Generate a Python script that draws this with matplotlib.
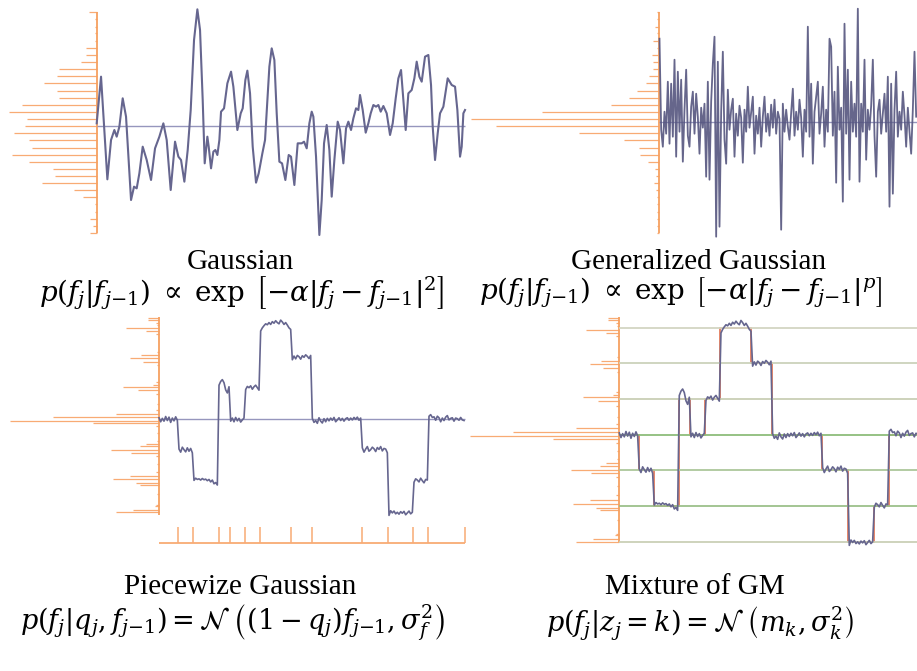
import numpy as np
import matplotlib.pyplot as plt

plt.rcParams['font.family'] = ['Liberation Serif', 'DejaVu Serif']
plt.rcParams['mathtext.fontset'] = 'dejavuserif'

W, H = 917, 671

# ---- Gaussian prior (smooth signal) ----
gauss_t = [0, 13, 32, 43, 53, 60, 68, 78, 88, 103, 112, 120, 128, 138, 150, 163, 175, 188,
           200, 210, 222, 235, 245, 253, 263, 273, 282, 292, 302, 310, 318, 324, 332, 336,
           343, 350, 356, 362, 368, 373, 382, 392, 403, 410, 422, 432, 438, 446, 452, 460,
           468, 478, 486, 497, 505, 518, 525, 533, 540, 548, 556, 566, 576, 583, 593, 603,
           615, 622, 630, 638, 645, 650, 658, 668, 675, 682, 690, 698, 705, 713, 723, 730,
           740, 748, 755, 763, 770, 778, 785, 790, 798, 807, 815, 822, 830, 838, 845, 852,
           860, 870, 880, 888, 897, 905, 913, 920, 927, 935, 945, 953, 960, 968, 975, 985,
           995, 1003, 1008, 1015, 1023, 1030, 1040, 1053, 1065, 1075, 1082, 1090, 1095,
           1100, 1105]
gauss_v = [8, 148, -160, -42, -12, -32, -2, 83, 28, -222, -182, -187, -142, -62, -102, -162,
           -67, -32, 8, -42, -192, -47, -92, -102, -167, -72, 48, 258, 350, 288, 78, -112,
           -32, -62, -127, -77, -72, -87, -42, 43, 53, 128, 163, 118, -12, 38, 53, 138, 166,
           98, -62, -170, -142, -82, -42, 178, 233, 198, 38, -107, -112, -162, -87, -92,
           -177, -52, -52, -47, -67, 8, 43, 28, -92, -327, -222, -52, 3, -72, -212, -102,
           13, -12, -112, -7, 13, -12, 23, 53, 48, 93, 48, -20, 8, 38, 63, 58, 63, 43, 60,
           38, -27, 8, 83, 143, 168, 78, -12, 98, 108, 143, 193, 148, 133, 208, 213, 123,
           -2, -102, -22, 38, 58, 143, 123, 118, 48, -92, -62, 38, 48]
gauss_hist_v = [341, 320, 298, 278, 256, 235, 213, 192, 171, 150, 128, 106, 85, 63, 42, 21,
                -1, -22, -43, -65, -87, -108, -129, -151, -172, -193, -214, -235, -257, -278,
                -299, -320]
gauss_hist_n = [22, 6, 6, 6, 6, 32, 32, 47, 112, 118, 157, 118, 112, 224, 262, 210, 215,
                248, 202, 195, 255, 202, 130, 125, 165, 68, 42, 6, 6, 20, 12, 20]

# ---- Generalized Gaussian prior (spiky signal) ----
gg_v = [83, -8, -25, 10, -12, 40, -22, 38, -15, 62, -35, 50, -10, 42, -40, 12, 52, -14,
        -25, 15, 30, -12, 28, 5, -32, 14, -6, 18, -55, 40, -58, 20, 58, 85, -115, 60, -105,
        10, 70, -18, -42, 32, -8, 12, 23, -35, 8, -14, 16, 4, -41, 12, -10, 35, -6, 10, 25,
        -32, 6, -12, 14, -25, 5, 25, -10, 8, -14, 17, -6, 22, -12, 10, 3, -108, 18, -10, 12,
        -5, -18, 9, 33, -14, 10, -8, 22, 4, -35, 12, -10, 95, -15, 38, -42, 10, 25, 40, -12,
        8, 35, -25, 12, -10, 83, 75, -14, 30, -61, 55, -8, 14, -80, 98, -12, 52, -58, 40,
        -10, 18, -15, 113, -60, 18, -10, 62, -38, 12, -8, 16, 62, -14, -55, 10, 22, -12, 8,
        28, -10, 45, -85, 38, -72, 12, 50, -15, 10, -8, 30, 6, -25, 14, -10, -32, 12, 70, 5]
gg_hist_v = [109.3, 102.3, 95.0, 88.3, 81.0, 74.0, 66.7, 59.7, 52.7, 45.7, 38.3, 31.0, 24.0,
             16.7, 9.7, 2.7, -4.7, -11.7, -18.7, -26.0, -33.3, -40.3, -47.3, -54.7, -61.7,
             -68.7, -75.7, -82.7, -90.0, -97.0, -104.0, -111.0]
gg_hist_n = [2, 2, 4, 2, 6, 2, 7, 6, 6, 10, 13, 22, 30, 48, 117, 188, 163, 80, 35, 20, 19,
             11, 4, 3, 5, 3, 2, 2, 2, 2, 2, 2]

# ---- piecewise signal (shared by the two bottom panels) ----
step_edges = [0, 11.6, 20.6, 36, 42.4, 51.4, 60.4, 79.2, 91.6, 121.8, 137.2, 152.6, 161.6, 183.6]
step_levels = [0, -1, -2, 1, 0, 1, 3, 2, 0, -1, -3, -2, 0]
step_noise = [5, -8, 3, -6, 9, -4, 7, -10, 4, -5, 8, -3,
              4, -6, 10, 2, -5, 8, -3, 6, -8,
              3, 10, 6, 8, 4, 9, 5, 7, 2, 6, -2, 4, -8, -4, -12,
              10, 22, 28, 18, -5, -15, 5,
              -6, 4, -8, 6, -5, 3, -9, -2, 4,
              -4, 6, 2, 8, -3, 5, 10, 2, -6,
              -15, -5, 2, 8, 5, 12, 6, 15, 10, 18, 12, 8, 20, 14, 6, 12, 4, -5, -10,
              -8, 4, -5, 6, 2, -6, 5, 0, 8, 3, -4, 6,
              3, -10, -4, -13, 5, -6, -12, 2, -8, 3, -5, 4, -3, 6, -8, -2, 5, -4, 3, -6,
              2, 5, -3, 4, -2, 6, 0, 7, -3, 4,
              8, -6, 4, 12, -3, 2, 10, 5, -4, 9, 3, 12, -2, 6, 4, -8,
              -10, 5, -2, 4, -5, 0, -6, 2, -3, 3, -8, -2, 4, -5, 0,
              -3, 8, 4, -2, 10, 2, -5, 6, 4,
              10, 15, 6, 8, -3, 10, 5, -8, 4, -4, 7, 12, -2, 3, 5, -6, 4, 2, -3, 6, -2, -4]
step_hist_lvl = [3.26, 3.20, 3.12, 3.05, 2.93, 2.84, 2.76, 2.18, 2.07, 1.98, 1.86, 1.75,
                 1.20, 1.11, 1.05, 0.93, 0.80, 0.50, 0.30, 0.18, 0.08, -0.04, -0.13, -0.22,
                 -0.45, -0.69, -0.79, -0.87, -0.99, -1.08, -1.18, -1.45, -1.70, -1.83, -1.93,
                 -2.04, -2.11, -2.40, -2.77, -2.81, -2.91, -3.00]
step_hist_n = [11, 11, 3, 2, 33, 13, 3, 2, 18, 29, 16, 2, 3, 6, 36, 21, 3, 2, 3, 43, 106,
               149, 66, 3, 2, 2, 13, 19, 48, 28, 3, 2, 3, 29, 46, 23, 19, 2, 3, 4, 26, 43]
gm_levels = [3, 2, 1, 0, -1, -2, -3]
gm_colors = ['#d3d5c3', '#ccd2bb', '#c9cfb5', '#8dbd7b', '#adc79b', '#9cc08a', '#cad0b6']

ORANGE = '#f8ab74'
SIGNAL = '#66668f'
BASE = '#9696bd'

fig = plt.figure(figsize=(W / 100, H / 100), dpi=100)


def panel(box, origin, scale):
    x0, y0, x1, y1 = box
    ax = fig.add_axes([x0 / W, 1 - y1 / H, (x1 - x0) / W, (y1 - y0) / H])
    ox, oy = origin
    sx, sy = scale
    ax.set_xlim((x0 - ox) * sx, (x1 - ox) * sx)
    ax.set_ylim((oy - y1) * sy, (oy - y0) * sy)
    ax.axis('off')
    return ax


# top left: Gaussian
ax = panel((0, 0, 470, 250), (96.7, 126), (3, 3))
ax.hlines(gauss_hist_v, [-n for n in gauss_hist_n], 0, color=ORANGE, lw=0.9)
ax.vlines(0, gauss_hist_v[-1], gauss_hist_v[0], color='#f6a060', lw=1.3)
ax.hlines(0, 0, gauss_t[-1], color=BASE, lw=1.0)
ax.plot(gauss_t, gauss_v, color=SIGNAL, lw=1.5, solid_joinstyle='round')

# top right: generalized Gaussian
ax = panel((460, 0, 917, 250), (658.5, 121.7), (0.6, 1))
ax.hlines(gg_hist_v, [-n * 0.6 for n in gg_hist_n], 0, color=ORANGE, lw=0.9)
ax.vlines(0, gg_hist_v[-1], gg_hist_v[0], color='#f6a060', lw=1.3)
ax.hlines(0, 0, 200, color=BASE, lw=1.0)
gg_t = np.arange(len(gg_v)) + 0.6
ax.plot(gg_t, gg_v, color='#55557f', lw=1.3, alpha=0.9)

# the piecewise signal
t = np.arange(len(step_noise))
seg = np.searchsorted(step_edges, t, side='right') - 1
signal = np.array(step_levels)[seg] + np.array(step_noise) / 100

# bottom left: piecewise Gaussian
ax = panel((0, 300, 470, 560), (159, 419.3), (0.6, 1 / 31))
ax.hlines(step_hist_lvl, [-n * 0.6 for n in step_hist_n], 0, color=ORANGE, lw=0.9)
ax.vlines(0, -3.09, 3.3, color='#f6a060', lw=1.3)
ax.hlines(0, 0, step_edges[-1], color=BASE, lw=1.0)
ax.plot(t, signal, color=SIGNAL, lw=1.2)
ax.vlines(step_edges[1:], -3.99, -3.47, color=ORANGE, lw=1.1)
ax.hlines(-3.99, 0, step_edges[-1], color=ORANGE, lw=1.3)

# bottom right: mixture of Gaussians
ax = panel((460, 300, 917, 560), (619.3, 434.7), (0.6, 1 / 35.7))
ax.hlines(step_hist_lvl, [-n * 0.6 for n in step_hist_n], 0, color=ORANGE, lw=0.9)
ax.vlines(0, -3.0, 3.29, color='#f6a060', lw=1.3)
for lv, c in zip(gm_levels, gm_colors):
    ax.hlines(lv, 0, 200, color=c, lw=1.3)
ax.plot(t, signal, color=SIGNAL, lw=1.2)
ax.stairs(step_levels, step_edges, baseline=None, color='#e2714f', lw=1.2)

# captions
fs = 21
fig.text(240 / W, 1 - 262 / H, 'Gaussian', ha='center', va='center', fontsize=fs)
fig.text(242 / W, 1 - 293 / H,
         r'$p(f_j|f_{j{-}1}) \;\propto\; \exp\;\left[-\alpha|f_j-f_{j{-}1}|^2\right]$',
         ha='center', va='center', fontsize=20)
fig.text(699 / W, 1 - 262 / H, 'Generalized Gaussian', ha='center', va='center', fontsize=fs)
fig.text(681 / W, 1 - 293 / H,
         r'$p(f_j|f_{j{-}1}) \;\propto\; \exp\;\left[-\alpha|f_j-f_{j{-}1}|^p\right]$',
         ha='center', va='center', fontsize=20)
fig.text(240 / W, 1 - 587 / H, 'Piecewize Gaussian', ha='center', va='center', fontsize=fs)
fig.text(232 / W, 1 - 623 / H,
         r'$p(f_j|q_j,f_{j{-}1}) = \mathcal{N}\;\left((1-q_j)f_{j{-}1},\sigma_f^2\right)$',
         ha='center', va='center', fontsize=19.5)
fig.text(695 / W, 1 - 587 / H, 'Mixture of GM', ha='center', va='center', fontsize=fs)
fig.text(700 / W, 1 - 623 / H,
         r'$p(f_j|z_j=k) = \mathcal{N}\;\left(m_k,\sigma_k^2\right)$',
         ha='center', va='center', fontsize=19.5)

fig.savefig('out.png', dpi=100)
